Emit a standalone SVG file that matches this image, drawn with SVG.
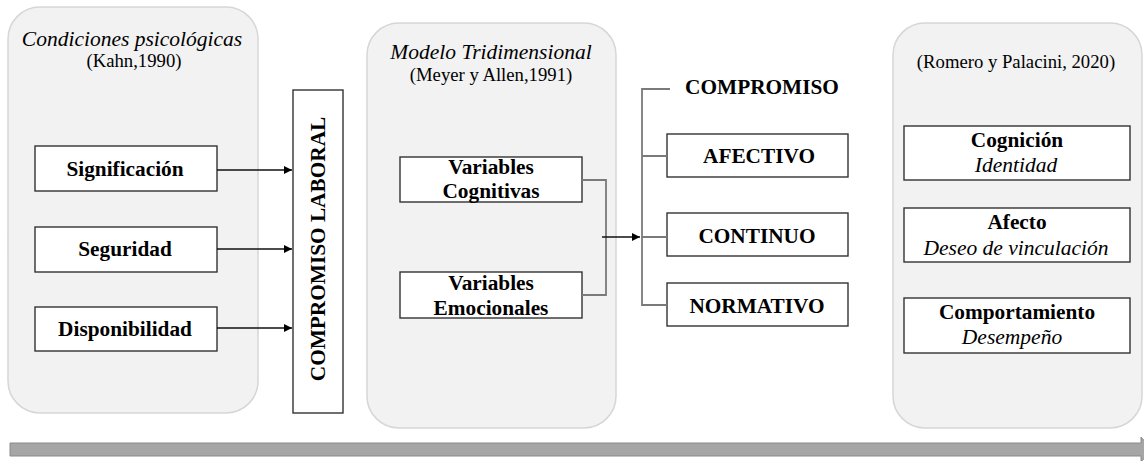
<svg xmlns="http://www.w3.org/2000/svg" width="1144" height="461" viewBox="0 0 1144 461">
<defs>
<style>
.t{font-family:'Liberation Serif','DejaVu Serif',serif;fill:#000;text-anchor:middle}
.panel{fill:#f2f2f2;stroke:#d6d6d6;stroke-width:1.5}
.box{fill:#fff;stroke:#333;stroke-width:1.4}
.b{font-weight:bold;font-size:21.3px}
.it{font-style:italic;font-size:21.5px}
.sub{font-size:18.7px}
.arr{stroke:#111;stroke-width:1.3;fill:none}
.brk{stroke:#7a7a7a;stroke-width:1.8;fill:none}
</style>
<marker id="ah" viewBox="0 0 10 10" refX="10" refY="5" markerWidth="8" markerHeight="8" markerUnits="userSpaceOnUse" orient="auto"><path d="M0,0 L10,5 L0,10 Z" fill="#000"/></marker>
</defs>
<rect width="1144" height="461" fill="#fff"/>
<g id="panel-left">
<rect class="panel" x="8" y="7" width="250" height="406" rx="32"/>
<text class="t it" x="132" y="46" font-family="Liberation Serif, serif">Condiciones psicológicas</text>
<text class="t sub" x="134" y="67" font-family="Liberation Serif, serif">(Kahn,1990)</text>
</g>
<g id="panel-middle">
<rect class="panel" x="367" y="23" width="249" height="405" rx="32"/>
<text class="t it" x="491" y="59" font-family="Liberation Serif, serif">Modelo Tridimensional</text>
<text class="t sub" x="491" y="81" font-family="Liberation Serif, serif">(Meyer y Allen,1991)</text>
</g>
<g id="panel-right">
<rect class="panel" x="893" y="23" width="249" height="405" rx="32"/>
<text class="t sub" x="1016" y="68" font-family="Liberation Serif, serif">(Romero y Palacini, 2020)</text>
</g>
<g id="significacion"><rect class="box" x="35" y="146" width="182" height="45"/><text class="t b" x="125" y="176" font-family="Liberation Serif, serif">Significación</text></g>
<g id="seguridad"><rect class="box" x="35" y="227" width="182" height="45"/><text class="t b" x="125" y="256" font-family="Liberation Serif, serif">Seguridad</text></g>
<g id="disponibilidad"><rect class="box" x="35" y="307" width="182" height="44"/><text class="t b" x="125" y="336" font-family="Liberation Serif, serif">Disponibilidad</text></g>
<g id="compromiso-laboral"><rect class="box" x="293" y="90" width="50" height="323"/><text class="t b" transform="translate(325,249) rotate(-90)" font-family="Liberation Serif, serif">COMPROMISO LABORAL</text></g>
<g id="variables-cognitivas"><rect class="box" x="400" y="157" width="182" height="45"/><text class="t b" x="491" y="174" font-family="Liberation Serif, serif">Variables</text><text class="t b" x="491" y="198" font-family="Liberation Serif, serif">Cognitivas</text></g>
<g id="variables-emocionales"><rect class="box" x="400" y="272" width="182" height="46"/><text class="t b" x="491" y="290" font-family="Liberation Serif, serif">Variables</text><text class="t b" x="491" y="315" font-family="Liberation Serif, serif">Emocionales</text></g>
<g id="compromiso"><text class="t b" x="762" y="94" font-family="Liberation Serif, serif">COMPROMISO</text></g>
<g id="afectivo"><rect class="box" x="667" y="134" width="181" height="43"/><text class="t b" x="759" y="163" font-family="Liberation Serif, serif">AFECTIVO</text></g>
<g id="continuo"><rect class="box" x="667" y="213" width="181" height="43"/><text class="t b" x="757" y="243" font-family="Liberation Serif, serif">CONTINUO</text></g>
<g id="normativo"><rect class="box" x="667" y="283" width="181" height="43"/><text class="t b" x="757" y="313" font-family="Liberation Serif, serif">NORMATIVO</text></g>
<g id="cognicion"><rect class="box" x="904" y="126" width="226" height="54"/><text class="t b" x="1017" y="147" font-family="Liberation Serif, serif">Cognición</text><text class="t it" x="1016" y="172" font-family="Liberation Serif, serif">Identidad</text></g>
<g id="afecto"><rect class="box" x="904" y="208" width="226" height="54"/><text class="t b" x="1017" y="229" font-family="Liberation Serif, serif">Afecto</text><text class="t it" x="1016" y="255" font-family="Liberation Serif, serif">Deseo de vinculación</text></g>
<g id="comportamiento"><rect class="box" x="904" y="298" width="226" height="55"/><text class="t b" x="1017" y="319" font-family="Liberation Serif, serif">Comportamiento</text><text class="t it" x="1012" y="344" font-family="Liberation Serif, serif">Desempeño</text></g>
<g id="connectors">
<line class="arr" x1="217" y1="170" x2="292" y2="170" marker-end="url(#ah)"/>
<line class="arr" x1="217" y1="249" x2="292" y2="249" marker-end="url(#ah)"/>
<line class="arr" x1="217" y1="328" x2="292" y2="328" marker-end="url(#ah)"/>
<path class="brk" d="M582,180 H606 V295 H582"/>
<line class="arr" x1="602" y1="237" x2="640" y2="237" marker-end="url(#ah)"/>
<path class="brk" d="M670,89 H642 V305 H667 M642,156 H667 M642,237 H667"/>
</g>
<g id="timeline-bar">
<path d="M10,443 H1141 V437 L1152,449.5 L1141,462 V456 H10 Z" fill="#a6a6a6" stroke="#8a8a8a" stroke-width="1"/>
</g>
</svg>
